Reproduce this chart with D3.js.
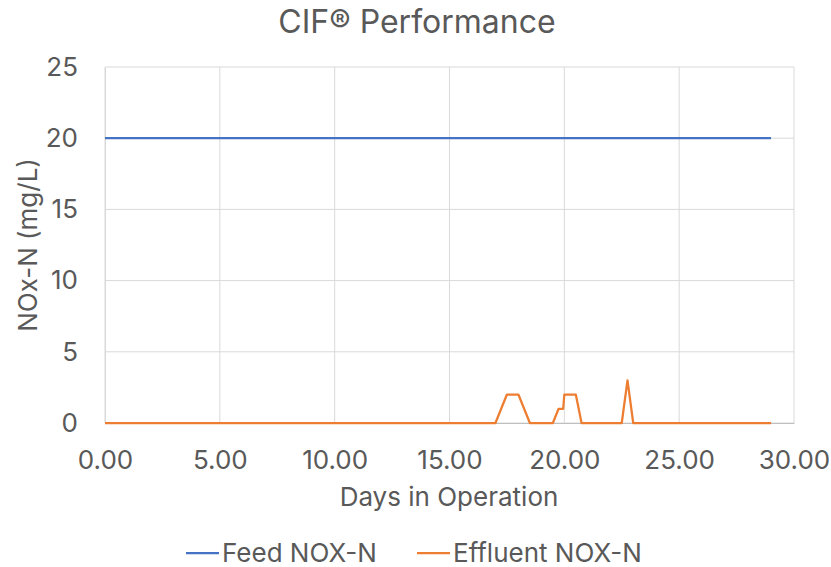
<!DOCTYPE html>
<html><head><meta charset="utf-8">
<script src="https://cdn.jsdelivr.net/npm/d3@7"></script>
<style>body{margin:0;background:#fff;font-family:Inter,"Noto Sans",sans-serif;}</style>
</head><body><svg id="c" width="831" height="567"></svg>
<script>
const feedDays = [0, 29];
const feedVals = [20, 20];
const effDays = [0, 17, 17.5, 18, 18.5, 19.5, 19.75, 19.95, 20, 20.5, 20.75, 22.5, 22.75, 23, 29];
const effVals = [0, 0, 2, 2, 0, 0, 1, 1, 2, 2, 0, 0, 3, 0, 0];
const xTicks = [0, 5, 10, 15, 20, 25, 30];
const yTicks = [0, 5, 10, 15, 20, 25];
const seriesNames = ["Feed NOX-N", "Effluent NOX-N"];
const colors = ["#4472c4", "#ed7d31"];

const svg = d3.select("#c");
const m = {l:105, r:794, t:67, b:423};
const x = d3.scaleLinear().domain([0,30]).range([m.l, m.r]);
const y = d3.scaleLinear().domain([0,25]).range([m.b, m.t]);
const txt = "#595959";
const ff = "Inter,'Noto Sans',sans-serif";

// grid
svg.append("g").selectAll("line").data(yTicks).join("line")
  .attr("x1", m.l).attr("x2", m.r).attr("y1", d=>y(d)).attr("y2", d=>y(d))
  .attr("stroke", "#d9d9d9").attr("stroke-width", 1);
svg.append("g").selectAll("line").data(xTicks).join("line")
  .attr("y1", m.t).attr("y2", m.b).attr("x1", d=>x(d)).attr("x2", d=>x(d))
  .attr("stroke", "#d9d9d9").attr("stroke-width", 1);

// axes
const xAxis = svg.append("g").attr("transform", `translate(0,${m.b})`)
  .call(d3.axisBottom(x).tickValues(xTicks).tickFormat(d3.format(".2f")).tickSize(0).tickPadding(28));
xAxis.select(".domain").attr("stroke", "#bfbfbf");
xAxis.selectAll("text").attr("fill", txt).style("font-size", "26px").style("font-family", ff);
const yAxis = svg.append("g").attr("transform", `translate(${m.l},0)`)
  .call(d3.axisLeft(y).tickValues(yTicks).tickSize(0).tickPadding(27));
yAxis.select(".domain").attr("stroke", "#d9d9d9");
yAxis.selectAll("text").attr("fill", txt).style("font-size", "26px").style("font-family", ff);

// lines
const line = d3.line().x(d=>x(d[0])).y(d=>y(d[1]));
svg.append("path").datum(feedDays.map((d,i)=>[d, feedVals[i]]))
  .attr("d", line).attr("fill","none").attr("stroke", colors[0]).attr("stroke-width", 2.25);
svg.append("path").datum(effDays.map((d,i)=>[d, effVals[i]]))
  .attr("d", line).attr("fill","none").attr("stroke", colors[1]).attr("stroke-width", 2.25).attr("stroke-linejoin","round");

// titles
svg.append("text").attr("x", 417).attr("y", 33).attr("text-anchor","middle")
  .attr("fill", txt).style("font-size","32px").text("CIF® Performance");
svg.append("text").attr("x", 449).attr("y", 506).attr("text-anchor","middle")
  .attr("fill", txt).style("font-size","26px").text("Days in Operation");
svg.append("text").attr("transform", `translate(37,${(m.t+m.b)/2}) rotate(-90)`).attr("text-anchor","middle")
  .attr("fill", txt).style("font-size","26px").text("NOx-N (mg/L)");

// legend
const lx = [186, 417];
seriesNames.forEach((n,i)=>{
  svg.append("line").attr("x1", lx[i]).attr("x2", lx[i]+33).attr("y1", 553).attr("y2", 553)
    .attr("stroke", colors[i]).attr("stroke-width", 2.25);
  svg.append("text").attr("x", lx[i]+36).attr("y", 562).attr("fill", txt).style("font-size","26px").text(n);
});
</script></body></html>
